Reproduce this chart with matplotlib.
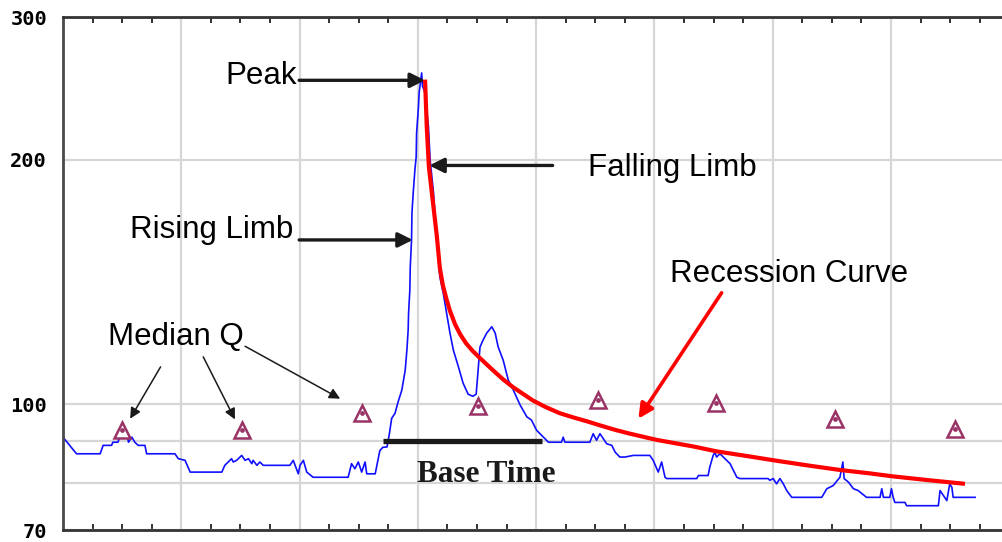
import matplotlib
matplotlib.use("Agg")
import matplotlib.pyplot as plt
from matplotlib.ticker import MultipleLocator, NullFormatter

# hydrograph: x = days from start, y = flow (log axis)
flow_day = [0, 3.2, 8.8, 9.5, 11.5, 11.8, 13.0, 13.9, 15.1, 15.5, 16.3, 17.0, 17.8, 19.4, 19.8,
            26.5, 27.3, 28.9, 30.1, 37.6, 38.3, 39.9, 40.3, 41.1, 42.3, 43.1, 43.9, 44.7, 45.0,
            45.9, 46.6, 47.4, 53.7, 54.5, 55.7, 56.1, 56.9, 57.7, 59.2, 67.5, 68.3, 69.1, 69.9,
            70.7, 71.5, 71.9, 73.9, 74.3, 75.0, 75.7, 76.7, 77.2, 77.8, 78.6, 79.3, 80.2, 81.0,
            81.4, 81.7, 81.8, 82.1, 82.2, 82.5, 82.6, 82.9, 83.3, 83.6, 83.7, 84.1, 84.3, 84.7,
            84.9, 85.1, 85.7, 86.1, 86.5, 86.9, 87.7, 88.1, 88.6, 89.2, 90.0, 90.8, 91.6, 92.4,
            93.6, 94.7, 95.9, 97.0, 97.8, 98.2, 98.7, 99.4, 100.3, 101.5, 102.3, 103.0, 104.2,
            105.4, 106.6, 108.2, 109.8, 110.9, 112.1, 113.7, 114.9, 118.0, 118.4, 118.8, 124.7,
            125.5, 126.3, 127.1, 128.7, 129.9, 130.7, 131.8, 133.0, 135.0, 138.9, 139.7, 140.9,
            141.7, 142.5, 142.9, 150.0, 150.4, 152.7, 153.1, 153.9, 154.3, 154.7, 155.5, 156.3,
            157.1, 157.9, 158.7, 159.5, 160.2, 166.9, 167.3, 168.1, 168.9, 169.7, 170.5, 171.3,
            172.5, 179.6, 180.8, 182.3, 183.9, 184.6, 184.9, 185.9, 187.1, 188.2, 190.2, 193.4,
            193.8, 194.2, 195.7, 196.1, 196.5, 196.9, 199.3, 199.7, 207.2, 207.6, 208.4, 209.2,
            209.9, 210.4, 210.7, 215.9]
flow_q = [91.1, 86.9, 86.9, 89.0, 89.0, 89.8, 89.8, 92.4, 92.1, 89.8, 91.1, 89.8, 89.0, 89.0, 86.9,
          86.9, 85.7, 85.3, 82.5, 82.5, 84.1, 85.7, 84.9, 85.3, 86.5, 85.3, 85.7, 84.5, 85.3,
          84.1, 84.9, 84.1, 84.1, 85.3, 82.1, 84.1, 85.3, 82.5, 81.3, 81.3, 84.5, 83.3, 84.9,
          82.5, 84.9, 82.1, 82.1, 84.1, 87.7, 88.5, 88.6, 91.6, 96.1, 97.5, 100.6, 104.1, 110.1,
          116.6, 123.4, 129.5, 138.3, 147.6, 159.4, 172.1, 182.2, 194.5, 201.8, 216.0, 230.7, 242.1, 251.2,
          256.0, 246.5, 242.1, 230.7, 219.9, 200.1, 182.2, 170.3, 156.4, 143.6, 137.1, 129.5, 122.4, 116.6,
          111.2, 106.2, 102.9, 102.3, 102.9, 109.2, 117.6, 119.9, 122.4, 124.6, 122.4, 117.7, 113.3,
          107.1, 104.1, 99.8, 96.5, 95.6, 92.9, 91.1, 89.8, 89.8, 91.1, 89.8, 89.8,
          92.0, 90.3, 92.0, 89.4, 89.0, 87.3, 86.1, 86.1, 86.5, 86.5, 85.3, 82.5,
          84.9, 81.3, 81.0, 81.0, 81.7, 81.7, 83.7, 86.5, 87.3, 86.1, 86.9, 86.1,
          85.3, 84.5, 82.9, 81.3, 81.0, 81.0, 80.6, 81.0, 79.8, 81.0, 79.8, 78.3,
          76.8, 76.8, 78.7, 79.4, 81.3, 84.9, 81.0, 80.2, 78.7, 78.3, 76.8, 76.8,
          78.7, 76.8, 76.8, 78.7, 76.8, 75.7, 75.7, 75.0, 75.0, 78.3, 77.2, 76.1,
          79.8, 79.0, 76.8, 76.8]

# recession curve drawn by eye from the peak
rec_day = [85.7, 86.1, 86.6, 87.5, 88.5, 89.2, 89.9, 90.7, 91.6, 92.8, 94.0, 95.4, 97.0, 98.7,
           101.8, 104.1, 106.5, 111.2, 114.1, 117.6, 121.2, 124.0, 127.1, 130.7, 134.2, 140.5,
           149.3, 154.7, 162.8, 168.9, 176.8, 183.9, 191.0, 196.5, 205.2, 213.5]
rec_q = [251.2, 219.9, 196.3, 178.6, 160.9, 147.2, 140.3, 135.2, 130.3, 125.5, 122.0, 118.9,
         116.3, 114.0, 110.1, 107.4, 105.0, 101.1, 99.3, 97.5, 96.2, 95.3, 94.2, 93.0, 92.0, 90.4,
         88.7, 87.5, 86.2, 85.2, 84.0, 83.0, 82.2, 81.5, 80.6, 79.8]

# monthly median Q
median_day = [13.9, 42.3, 70.7, 98.3, 126.7, 154.6, 182.7, 211.1]
median_q = [92.9, 92.9, 97.6, 99.4, 101.1, 100.4, 95.8, 93.3]

y_ticks = [70, 100, 200, 300]
y_grid = [80, 90]

SANS = "Liberation Sans"
BIG = 22.5


def arrow(ax, start, end, color="#1a1a1a", lw=2.4, scale=22):
    ax.annotate("", xy=end, xytext=start,
                arrowprops=dict(arrowstyle="-|>", color=color, lw=lw, mutation_scale=scale,
                                shrinkA=0, shrinkB=0))


def main() -> None:
    fig = plt.figure(figsize=(10.03, 5.42), dpi=100)
    ax = fig.add_axes([0.0628, 0.0221, 0.9372, 0.9465])
    ax.set_yscale("log")
    ax.set_ylim(70, 300)
    ax.set_xlim(0, 222.5)

    ax.set_yticks(y_ticks, labels=[str(v) for v in y_ticks])
    ax.set_yticks(y_grid, minor=True)
    ax.yaxis.set_minor_formatter(NullFormatter())
    ax.tick_params(axis="y", which="both", length=0, pad=11.5, labelsize=14.6)
    for lbl in ax.get_yticklabels():
        lbl.set_fontfamily("DejaVu Sans Mono")
        lbl.set_fontweight("bold")

    ax.xaxis.set_major_locator(MultipleLocator(28))
    ax.xaxis.set_minor_locator(MultipleLocator(7))
    ax.tick_params(axis="x", which="major", length=0, labelbottom=False)
    ax.tick_params(axis="x", which="minor", direction="in", length=4, width=1.3,
                   top=True, bottom=True, color="#222222")

    ax.set_axisbelow(True)
    ax.grid(True, which="major", axis="x", color="#d6d6d6", lw=1.6)
    ax.grid(True, which="both", axis="y", color="#d6d6d6", lw=1.6)
    ax.spines["right"].set_visible(False)
    ax.spines["left"].set_linewidth(2)
    ax.spines["left"].set_color("#4a4a4a")
    for s in ("top", "bottom"):
        ax.spines[s].set_linewidth(2)
        ax.spines[s].set_color("#333333")

    ax.plot(flow_day, flow_q, color="#1010ff", lw=1.2)
    ax.plot(rec_day, rec_q, color="#ff0000", lw=3, solid_capstyle="butt", solid_joinstyle="round")
    ax.plot(median_day, median_q, ls="none", marker="^", ms=11, mfc="white",
            mec="#993366", mew=1.8)
    ax.plot(median_day, median_q, ls="none", marker="o", ms=2.4, color="#993366")

    # base time bar
    ax.plot([75.8, 113.3], [90.1, 90.1], color="#1a1a1a", lw=3.8, solid_capstyle="butt")
    ax.text(100.3, 80.2, "Base Time", ha="center", va="baseline", fontsize=BIG,
            family="Liberation Serif", fontweight="bold", color="#1a1a1a")

    # labels + arrows
    ax.text(55.4, 248.1, "Peak", ha="right", va="baseline", fontsize=BIG, family=SANS)
    arrow(ax, (55.9, 250.7), (85.7, 250.7))
    ax.text(54.4, 160.3, "Rising Limb", ha="right", va="baseline", fontsize=BIG, family=SANS)
    arrow(ax, (55.9, 159.4), (82.8, 159.4))
    ax.text(124.3, 191.2, "Falling Limb", ha="left", va="baseline", fontsize=BIG, family=SANS)
    arrow(ax, (115.9, 196.9), (86.7, 196.9))
    ax.text(143.7, 141.6, "Recession Curve", ha="left", va="baseline", fontsize=BIG, family=SANS)
    arrow(ax, (155.9, 137.2), (136.2, 96.0), color="#ff0000", lw=2.6, scale=22)

    ax.text(10.7, 118.3, "Median Q", ha="left", va="baseline", fontsize=BIG, family=SANS)
    arrow(ax, (23.1, 111.2), (15.9, 96.0), lw=1.1, scale=16)
    arrow(ax, (33.2, 114.4), (40.7, 95.8), lw=1.1, scale=16)
    arrow(ax, (43.1, 117.9), (65.6, 101.6), lw=1.1, scale=16)

    fig.savefig("out.png", dpi=100)
    plt.close(fig)


if __name__ == "__main__":
    main()
